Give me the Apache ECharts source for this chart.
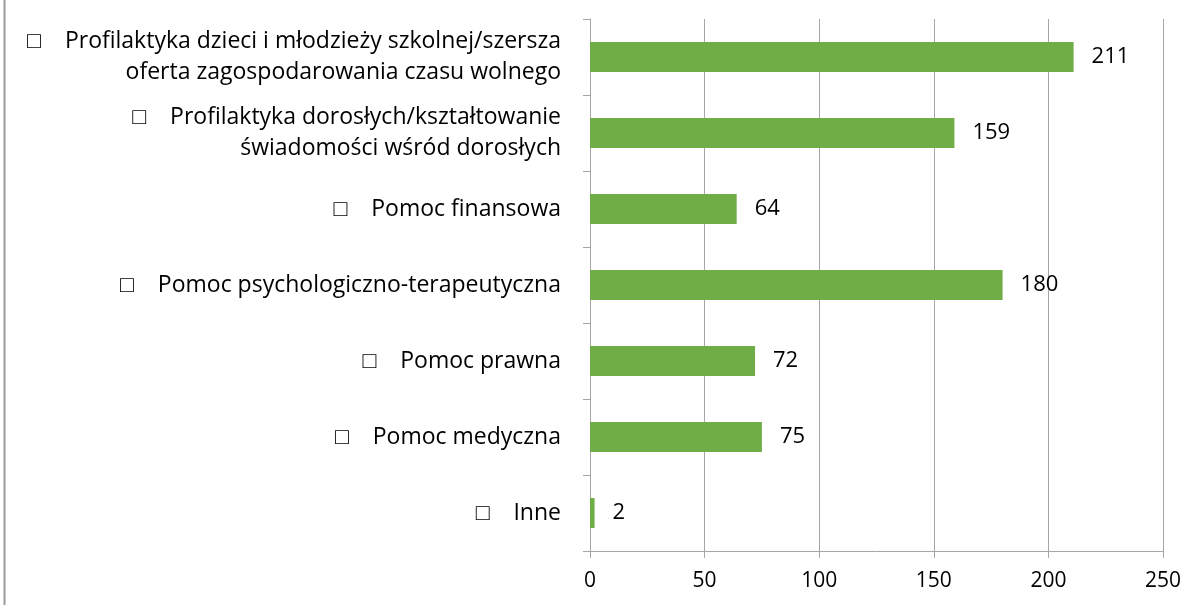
<!DOCTYPE html>
<html><head><meta charset="utf-8">
<script src="https://cdn.jsdelivr.net/npm/echarts@6/dist/echarts.min.js"></script>
<style>html,body{margin:0;padding:0;background:#fff}#c{width:1187px;height:605px}</style>
</head><body><div id="c"></div>
<script>
const categories = [
  "□    Profilaktyka dzieci i młodzieży szkolnej/szersza\noferta zagospodarowania czasu wolnego",
  "□    Profilaktyka dorosłych/kształtowanie\nświadomości wśród dorosłych",
  "□    Pomoc finansowa",
  "□    Pomoc psychologiczno-terapeutyczna",
  "□    Pomoc prawna",
  "□    Pomoc medyczna",
  "□    Inne"
];
const values = [211, 159, 64, 180, 72, 75, 2];
const xTicks = { min: 0, max: 250, interval: 50 };

const FONT = 'Open Sans';
const chart = echarts.init(document.getElementById('c'));
chart.setOption({
  animation: false,
  textStyle: { fontFamily: FONT },
  graphic: [{ type: 'line', shape: { x1: 4.5, y1: 0, x2: 4.5, y2: 605 }, style: { stroke: '#9a9a9a', lineWidth: 2 } }],
  grid: { left: 590, right: 24, top: 19, bottom: 54 },
  xAxis: {
    type: 'value', min: xTicks.min, max: xTicks.max, interval: xTicks.interval,
    axisLine: { show: true, lineStyle: { color: '#a6a6a6' } },
    axisTick: { show: true, length: 7, lineStyle: { color: '#a6a6a6' } },
    splitLine: { show: true, lineStyle: { color: '#a6a6a6' } },
    axisLabel: { color: '#000', fontSize: 21, fontFamily: FONT, margin: 20 }
  },
  yAxis: {
    type: 'category', data: categories, inverse: true,
    axisLine: { show: true, lineStyle: { color: '#a6a6a6' } },
    axisTick: { show: true, length: 7, lineStyle: { color: '#a6a6a6' } },
    axisLabel: { color: '#000', fontSize: 23, fontFamily: FONT, margin: 29, lineHeight: 31, align: 'right' }
  },
  series: [{
    type: 'bar', data: values, barWidth: 30,
    itemStyle: { color: '#70ad47' },
    label: { show: true, position: 'right', distance: 18, color: '#000', fontSize: 22, fontFamily: FONT }
  }]
});
</script></body></html>
